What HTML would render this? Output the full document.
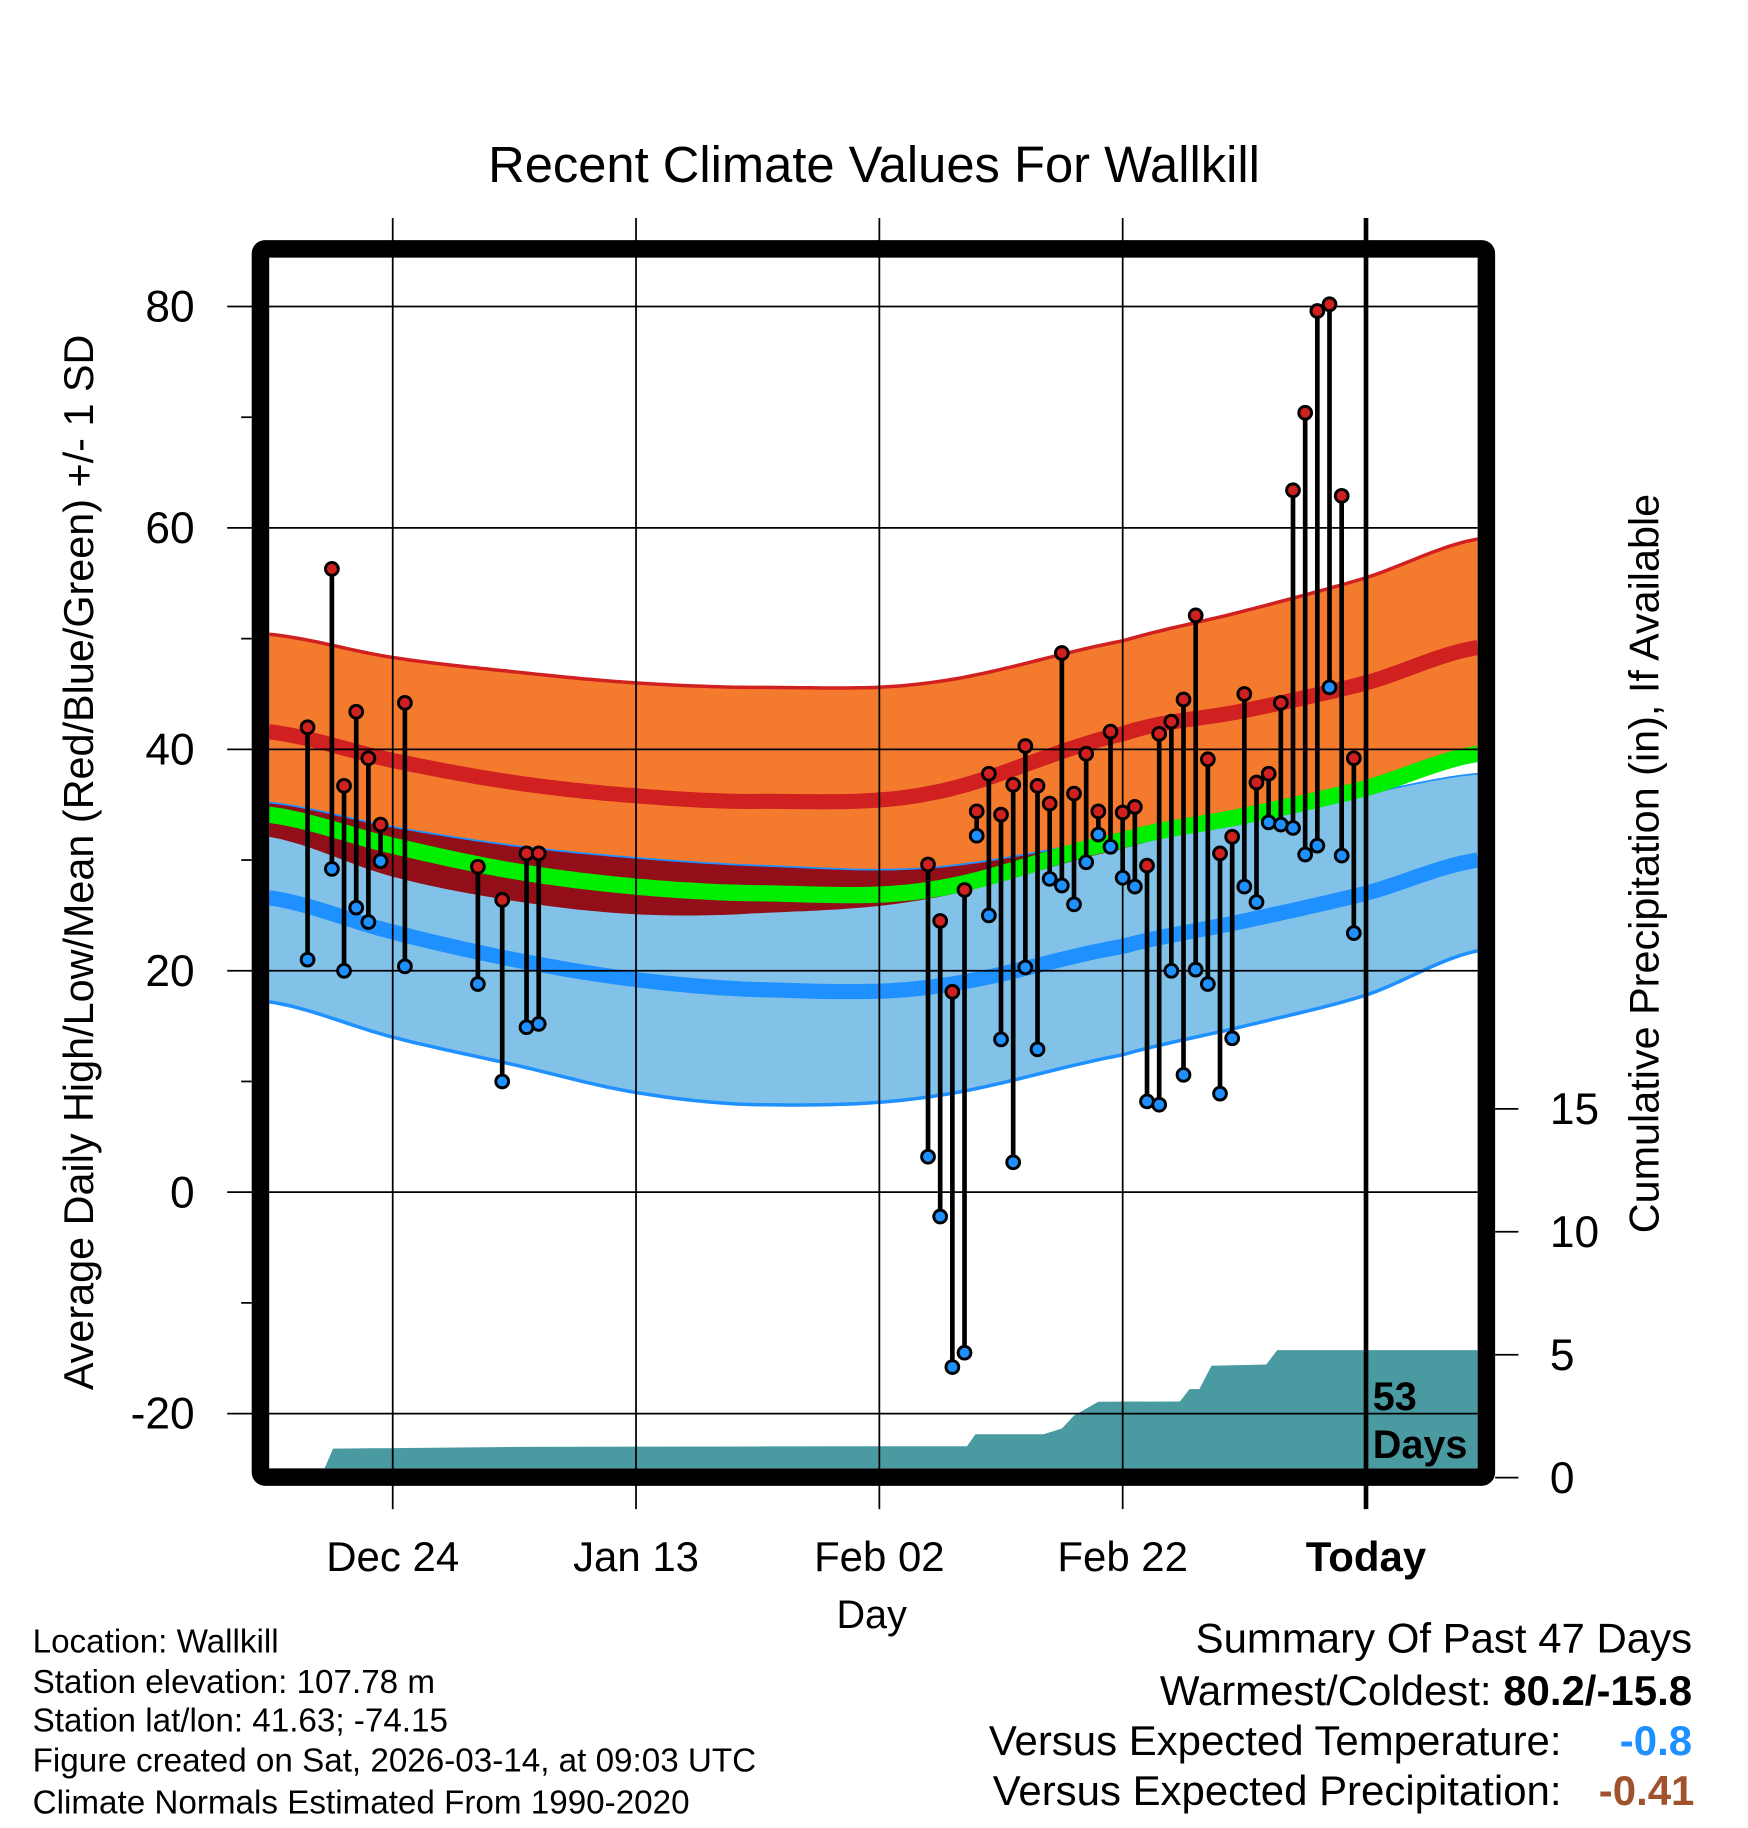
<!DOCTYPE html>
<html><head><meta charset="utf-8"><style>
html,body{margin:0;padding:0;background:#fff}
svg{display:block}
text{font-family:"Liberation Sans",Arial,sans-serif;fill:#000}
</style></head><body>
<svg id="chart" width="1748" height="1828" viewBox="0 0 1500 1568.6" xmlns="http://www.w3.org/2000/svg">
<text x="750" y="156" font-size="43.5" text-anchor="middle">Recent Climate Values For Wallkill</text>
<g id="plot"></g>
<text transform="translate(80,740) rotate(-90)" font-size="35.5" text-anchor="middle">Average Daily High/Low/Mean (Red/Blue/Green) +/- 1 SD</text>
<text transform="translate(1423,741) rotate(-90)" font-size="35.5" text-anchor="middle">Cumulative Precipitation (in), If Available</text>
<text x="748" y="1397" font-size="34" text-anchor="middle">Day</text>
<g font-size="28.5">
<text x="28" y="1418">Location: Wallkill</text>
<text x="28" y="1453">Station elevation: 107.78 m</text>
<text x="28" y="1486">Station lat/lon: 41.63; -74.15</text>
<text x="28" y="1520">Figure created on Sat, 2026-03-14, at 09:03 UTC</text>
<text x="28" y="1556">Climate Normals Estimated From 1990-2020</text>
</g>
<g font-size="36">
<text x="1452" y="1418" text-anchor="end">Summary Of Past 47 Days</text>
<text x="1452" y="1463" text-anchor="end">Warmest/Coldest: <tspan font-weight="bold">80.2/-15.8</tspan></text>
<text x="1340" y="1506" text-anchor="end">Versus Expected Temperature:</text>
<text x="1452" y="1506" text-anchor="end" font-weight="bold" style="fill:#1e90ff">-0.8</text>
<text x="1340" y="1549" text-anchor="end">Versus Expected Precipitation:</text>
<text x="1454" y="1549" text-anchor="end" font-weight="bold" style="fill:#a0522d">-0.41</text>
</g>
</svg>
<script>
// data (days relative to Dec 24)
const xTickLabels = ["Dec 24","Jan 13","Feb 02","Feb 22","Today"];
const xTickDays = [0,20,40,60,80];
const yTicks = [80,60,40,20,0,-20];
const y2Ticks = [0,5,10,15];
const obsDays = [-7,-5,-4,-3,-2,-1,1,7,9,11,12,44,45,46,47,48,49,50,51,52,53,54,55,56,57,58,59,60,61,62,63,64,65,66,67,68,69,70,71,72,73,74,75,76,77,78,79];
const highs = [42,56.3,36.7,43.4,39.2,33.2,44.2,29.4,26.4,30.6,30.6,29.6,24.5,18.1,27.3,34.4,37.8,34.1,36.8,40.3,36.7,35.1,48.7,36,39.6,34.4,41.6,34.3,34.8,29.5,41.4,42.5,44.5,52.1,39.1,30.6,32.1,45,37,37.8,44.2,63.4,70.4,79.6,80.2,62.9,39.2];
const lows = [21,29.2,20,25.7,24.4,29.9,20.4,18.8,10,14.9,15.2,3.2,-2.2,-15.8,-14.5,32.2,25,13.8,2.7,20.3,12.9,28.3,27.7,26,29.8,32.3,31.2,28.4,27.6,8.2,7.9,20,10.6,20.1,18.8,8.9,13.9,27.6,26.2,33.4,33.2,32.9,30.5,31.3,45.6,30.4,23.4];
const normDays = [-10.2,0,10,20,30,44,60,70,80,89.2];
const hiUpper = [50.4,48.3,47,46,45.6,46,49.8,52.5,55.5,59];
const hiMean = [41.6,39,37,35.8,35.3,36,41.4,43.5,46,49.2];
const hiLower = [32.1,28.5,26.3,25.1,25.2,26.5,31,33.5,36.5,39.5];
const loUpper = [35.2,33,31.3,30.2,29.5,29.3,32,34,36,37.8];
const loMean = [26.6,23.5,21,19.2,18.3,18.5,22.2,24.5,27,30];
const loLower = [17.2,14,11.5,9,7.9,8.6,12.4,15,17.8,21.8];
const avgMean = [34.1,31.3,29,27.6,27,27.3,31.8,34,36.5,39.6];
const precipDays = [-5.6,-4.9,10,30,42.5,47.2,47.9,53.5,55,56,58,64.7,65.5,66.3,67.3,71.8,72.7,89.2];
const precipVals = [0,1.18,1.25,1.27,1.28,1.28,1.77,1.77,2.0,2.52,3.09,3.1,3.6,3.6,4.55,4.6,5.19,5.19];

const NS="http://www.w3.org/2000/svg";
const L=231,R=1268,T=221,B=1260;
const xS=d=>337+d*10.44;
const yS=v=>1023-v*9.5;
const pS=v=>1268-v*21.1;
const g=document.getElementById('plot');
function mk(tag,attrs,parent){const e=document.createElementNS(NS,tag);for(const k in attrs)e.setAttribute(k,attrs[k]);(parent||g).appendChild(e);return e;}
function interp(arr,d){for(let i=0;i<normDays.length-1;i++){if(d<=normDays[i+1]){const a=normDays[i],b=normDays[i+1];let t=(d-a)/(b-a);
 const p0=arr[Math.max(i-1,0)],p1=arr[i],p2=arr[i+1],p3=arr[Math.min(i+2,arr.length-1)];
 const t2=t*t,t3=t2*t;return 0.5*((2*p1)+(-p0+p2)*t+(2*p0-5*p1+4*p2-p3)*t2+(-p0+3*p1-3*p2+p3)*t3);}}return arr[arr.length-1];}
const samples=[];for(let d=normDays[0];d<=89.2;d+=0.5)samples.push(d);samples.push(89.2);
function line(arr){return samples.map(d=>xS(d).toFixed(1)+','+yS(interp(arr,d)).toFixed(1)).join(' ');}
function band(a,b){return samples.map(d=>xS(d).toFixed(1)+','+yS(interp(a,d)).toFixed(1)).concat(samples.slice().reverse().map(d=>xS(d).toFixed(1)+','+yS(interp(b,d)).toFixed(1))).join(' ');}
const clip=mk('clipPath',{id:'pc'});mk('rect',{x:L,y:T,width:R-L,height:B-T},clip);
const pg=mk('g',{'clip-path':'url(#pc)'});
let e;
e=mk('polygon',{points:band(hiUpper,hiLower),fill:'#f47a2e'},pg);


e=mk('polyline',{points:line(hiUpper),fill:'none',stroke:'#d02020','stroke-width':3},pg);


e=mk('polygon',{points:band(loUpper,loLower),fill:'#82c1e8'},pg);


const ov=samples.map(d=>xS(d).toFixed(1)+','+yS(interp(loUpper,d)).toFixed(1)).concat(samples.slice().reverse().map(d=>xS(d).toFixed(1)+','+yS(Math.min(interp(hiLower,d),interp(loUpper,d))).toFixed(1))).join(' ');
e=mk('polygon',{points:ov,fill:'#920e18'},pg);


e=mk('polyline',{points:line(loUpper),fill:'none',stroke:'#1e90ff','stroke-width':1.5},pg);


e=mk('polyline',{points:line(loLower),fill:'none',stroke:'#1e90ff','stroke-width':3},pg);


e=mk('polyline',{points:line(hiMean),fill:'none',stroke:'#d02020','stroke-width':13},pg);


e=mk('polyline',{points:line(loMean),fill:'none',stroke:'#1e90ff','stroke-width':13},pg);


e=mk('polyline',{points:line(avgMean),fill:'none',stroke:'#00ee00','stroke-width':14},pg);


let pp=precipDays.map((d,i)=>xS(d).toFixed(1)+','+Math.min(pS(precipVals[i]),B).toFixed(1));
pp.push(xS(89.2)+','+B);pp.push(xS(precipDays[0])+','+B);
e=mk('polygon',{points:pp.join(' '),fill:'#4a9aa2'},pg);


yTicks.forEach(v=>{
 e=mk('line',{x1:195,x2:R,y1:yS(v),y2:yS(v),stroke:'#000','stroke-width':1.5});
 
 
 e=mk('text',{x:167,y:yS(v)+13,'font-size':38,'text-anchor':'end'});e.textContent=v;
 
 
});
for(let v=-10;v<=70;v+=20){mk('line',{x1:207,x2:216,y1:yS(v),y2:yS(v),stroke:'#000','stroke-width':1.5});}
xTickDays.forEach((d,i)=>{
 const isToday=i===xTickLabels.length-1;
 e=mk('line',{x1:xS(d),x2:xS(d),y1:187,y2:1295,stroke:'#000','stroke-width':isToday?4:1.5});
 
 
 e=mk('text',{x:xS(d),y:1348,'font-size':36,'text-anchor':'middle','font-weight':isToday?'bold':'normal'});e.textContent=xTickLabels[i];
 
 
});
y2Ticks.forEach(v=>{
 mk('line',{x1:1283,x2:1303,y1:pS(v),y2:pS(v),stroke:'#000','stroke-width':1.5});
 e=mk('text',{x:1330,y:pS(v)+13,'font-size':38});e.textContent=v;
 
 
});
obsDays.forEach((d,i)=>{
 const x=xS(d);
 e=mk('line',{x1:x,x2:x,y1:yS(highs[i]),y2:yS(lows[i]),stroke:'#000','stroke-width':4});
 
 
 e=mk('circle',{cx:x,cy:yS(highs[i]),r:5.5,fill:'#d02020',stroke:'#000','stroke-width':2.5});
 
 
 e=mk('circle',{cx:x,cy:yS(lows[i]),r:5.5,fill:'#1e90ff',stroke:'#000','stroke-width':2.5});
 
 
});
e=mk('text',{x:1178,y:1210,'font-size':34,'font-weight':'bold'});e.textContent='53';


e=mk('text',{x:1178,y:1251,'font-size':34,'font-weight':'bold'});e.textContent='Days';


e=mk('rect',{x:223.5,y:213.5,width:1052,height:1054,fill:'none',stroke:'#000','stroke-width':15,rx:4});


</script>
</body></html>
